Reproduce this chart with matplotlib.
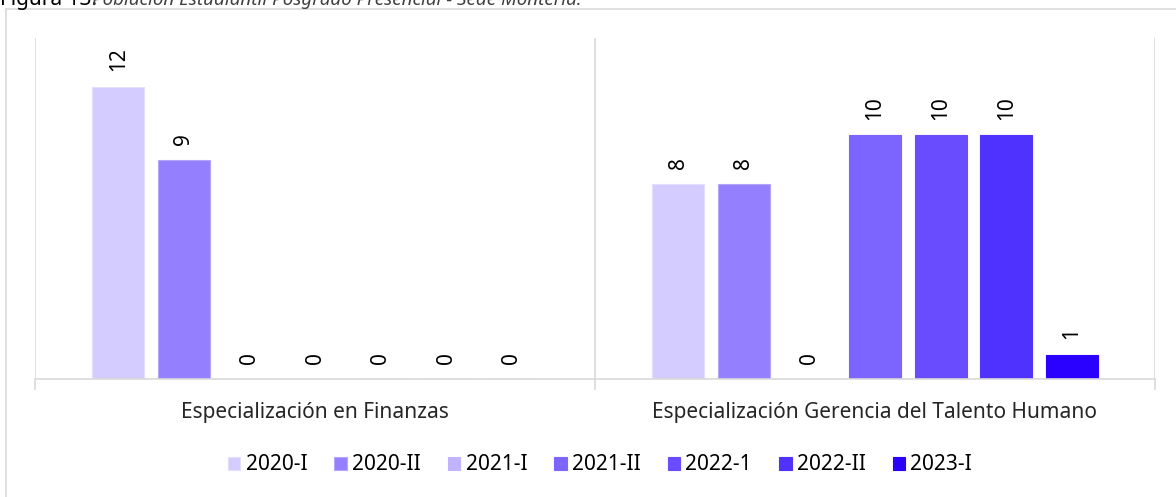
import numpy as np
import matplotlib.pyplot as plt
from matplotlib.patches import Rectangle

plt.rcParams['font.family'] = ['Noto Sans', 'DejaVu Sans']

categorias = ['Especialización en Finanzas', 'Especialización Gerencia del Talento Humano']
periodos = ['2020-I', '2020-II', '2021-I', '2021-II', '2022-1', '2022-II', '2023-I']
valores = {
    '2020-I': [12, 8],
    '2020-II': [9, 8],
    '2021-I': [0, 0],
    '2021-II': [0, 10],
    '2022-1': [0, 10],
    '2022-II': [0, 10],
    '2023-I': [0, 1],
}
colores = ['#D4CCFF', '#9480FF', '#C0B4FF', '#7C64FF', '#6A4CFF', '#5032FF', '#2A00FF']
bordes = ['#E4DEFF', '#B3A6FF', '#C0B4FF', '#7C64FF', '#6A4CFF', '#5032FF', '#2A00FF']

W, H = 1176, 497
fig = plt.figure(figsize=(W / 100, H / 100), dpi=100)

# marco exterior
fig.patches.append(Rectangle((6 / W, -0.1), 1.2, 1 - 9 / H + 0.1, transform=fig.transFigure,
                             fill=False, edgecolor='#D9D9D9', linewidth=1.2))

# titulo (cortado arriba, como en la imagen original)
fig.text(0.0, 1 - 5 / H, 'Figura 13.', fontsize=15, va='baseline', ha='left', color='black')
fig.text(92 / W, 1 - 5 / H, 'Población Estudiantil Posgrado Presencial - Sede Montería.',
         fontsize=13.5, style='italic', va='baseline', ha='left', color='#404040')

ax = fig.add_axes([35 / W, (H - 379) / H, 1120 / W, (379 - 38) / H])

x = np.arange(len(categorias))
paso = 65.6 / 560
ancho = 52 / 560
for i, p in enumerate(periodos):
    pos = x + (i - 3) * paso
    bars = ax.bar(pos, valores[p], width=ancho, color=colores[i], edgecolor=bordes[i],
                  linewidth=0.8, label=p)
    for b, v in zip(bars, valores[p]):
        ax.annotate(str(v), (b.get_x() + b.get_width() / 2, v), xytext=(0, 11),
                    textcoords='offset points', rotation=90, ha='center', va='bottom',
                    fontsize=15, color='black')

ax.set_xlim(-0.5, 1.5)
ax.set_ylim(0, 14.0)
ax.set_yticks([])
for s in ['top', 'right', 'left']:
    ax.spines[s].set_visible(False)
ax.spines['bottom'].set_color('#D9D9D9')
ax.spines['bottom'].set_linewidth(1.2)
for xv in [-0.5, 0.5, 1.5]:
    ax.axvline(xv, color='#D9D9D9', linewidth=1.2, zorder=0)
ax.set_xticks([-0.5, 0.5, 1.5])
ax.set_xticklabels([])
ax.tick_params(axis='x', length=8, color='#D9D9D9', width=1.2)
for i, c in enumerate(categorias):
    ax.text(x[i], -1.38, c, ha='center', va='center', fontsize=15, color='#262626')

ax.legend(loc='center', bbox_to_anchor=(600 / W, 1 - 465 / H), bbox_transform=fig.transFigure,
          ncol=7, frameon=False, fontsize=15, handlelength=0.6, handleheight=0.6,
          handletextpad=0.25, columnspacing=1.3)

fig.savefig('out.png', dpi=100)
